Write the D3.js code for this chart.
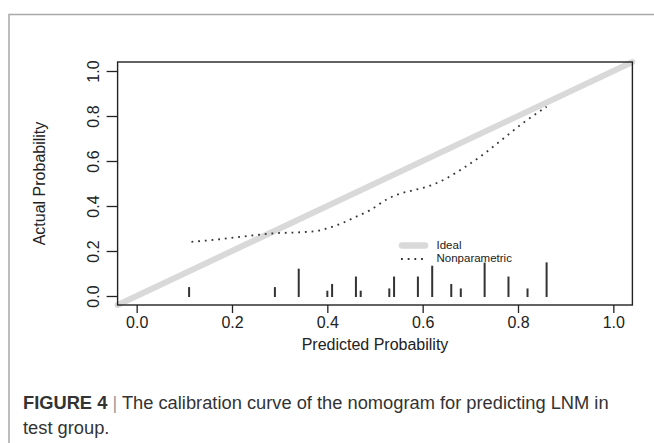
<!DOCTYPE html>
<html>
<head>
<meta charset="utf-8">
<script src="https://cdn.jsdelivr.net/npm/d3@7/dist/d3.min.js"></script>
<style>
  html, body { margin: 0; padding: 0; background: #fff; }
  svg { display: block; }
  text { font-family: "Liberation Sans", Arial, sans-serif; }
</style>
</head>
<body>
<svg id="chart" width="654" height="443"></svg>
<script>
// ---- data ----
const xTicks = [0, 0.2, 0.4, 0.6, 0.8, 1.0];
const yTicks = [0, 0.2, 0.4, 0.6, 0.8, 1.0];
const idealX = [-0.04, 1.04];
const idealY = [-0.04, 1.04];
const nonparX = [0.115, 0.16, 0.21, 0.25, 0.29, 0.34, 0.38, 0.40, 0.43, 0.46, 0.49, 0.525, 0.55, 0.58, 0.61, 0.65, 0.69, 0.73, 0.77, 0.81, 0.86];
const nonparY = [0.241, 0.249, 0.261, 0.271, 0.279, 0.283, 0.290, 0.301, 0.323, 0.352, 0.382, 0.430, 0.453, 0.470, 0.486, 0.523, 0.575, 0.634, 0.701, 0.768, 0.841];
const spikeX = [0.11, 0.29, 0.34, 0.40, 0.41, 0.46, 0.47, 0.53, 0.54, 0.59, 0.62, 0.66, 0.68, 0.73, 0.78, 0.82, 0.86];
const spikeH = [0.044, 0.044, 0.126, 0.028, 0.058, 0.091, 0.028, 0.038, 0.091, 0.091, 0.139, 0.058, 0.038, 0.153, 0.091, 0.038, 0.154];
const legendLabels = ["Ideal", "Nonparametric"];
const xTitle = "Predicted Probability";
const yTitle = "Actual Probability";

const svg = d3.select("#chart");

// figure frame (left + top rule)
svg.append("path")
  .attr("d", "M9,443 L9,14.5 L654,14.5")
  .attr("fill", "none").attr("stroke", "#a8a8a8").attr("stroke-width", 1.5);

const L = 117.6, R = 632.4, T = 62, B = 305;
const x = d3.scaleLinear().domain([-0.04, 1.04]).range([L, R]);
const y = d3.scaleLinear().domain([-0.04, 1.04]).range([B, T]);

// axes
const gx = svg.append("g").attr("transform", `translate(0,${B})`)
  .call(d3.axisBottom(x).tickValues(xTicks).tickSize(8).tickPadding(4).tickFormat(d3.format(".1f")));
gx.select(".domain").remove();
gx.selectAll("line").attr("stroke", "#222").attr("stroke-width", 1.3);
gx.selectAll("text").attr("font-size", 16).attr("fill", "#222")
  .attr("dy", null).attr("y", 22.7);

const gy = svg.append("g").attr("transform", `translate(${L},0)`)
  .call(d3.axisLeft(y).tickValues(yTicks).tickSize(11).tickFormat(d3.format(".1f")));
gy.select(".domain").remove();
gy.selectAll("line").attr("stroke", "#222").attr("stroke-width", 1.3);
gy.selectAll("text").attr("font-size", 16).attr("fill", "#222")
  .attr("x", null).attr("dy", null).attr("text-anchor", "middle")
  .attr("transform", "translate(-18.6,0) rotate(-90)");

// spikes
svg.append("g").selectAll("line").data(spikeX).join("line")
  .attr("x1", d => x(d)).attr("x2", d => x(d))
  .attr("y1", y(0) + 1).attr("y2", (d, i) => y(spikeH[i]) + 1)
  .attr("stroke", "#333").attr("stroke-width", 2);

// ideal line
svg.append("line")
  .attr("x1", x(idealX[0])).attr("y1", y(idealY[0]))
  .attr("x2", x(idealX[1])).attr("y2", y(idealY[1]))
  .attr("stroke", "#d9d9d9").attr("stroke-width", 6).attr("stroke-linecap", "round");

// nonparametric
const line = d3.line().x(d => x(d[0])).y(d => y(d[1])).curve(d3.curveMonotoneX);
svg.append("path")
  .datum(nonparX.map((v, i) => [v, nonparY[i]]))
  .attr("d", line)
  .attr("fill", "none").attr("stroke", "#333").attr("stroke-width", 1.8)
  .attr("stroke-dasharray", "1.8,4.9");

// plot box
svg.append("rect").attr("x", L).attr("y", T).attr("width", R - L).attr("height", B - T)
  .attr("fill", "none").attr("stroke", "#222").attr("stroke-width", 1.4);

// legend
const lg = svg.append("g");
lg.append("line").attr("x1", 402).attr("x2", 425).attr("y1", 245.5).attr("y2", 245.5)
  .attr("stroke", "#d9d9d9").attr("stroke-width", 6.5).attr("stroke-linecap", "round");
lg.append("line").attr("x1", 401).attr("x2", 424).attr("y1", 259).attr("y2", 259)
  .attr("stroke", "#333").attr("stroke-width", 1.8).attr("stroke-dasharray", "1.8,4.9");
lg.append("text").attr("x", 436.5).attr("y", 249).attr("font-size", 11.5).attr("fill", "#222").text(legendLabels[0]);
lg.append("text").attr("x", 436.5).attr("y", 262.2).attr("font-size", 11.5).attr("fill", "#222").text(legendLabels[1]);

// axis titles
svg.append("text").attr("x", (L + R) / 2).attr("y", 349.5).attr("text-anchor", "middle")
  .attr("font-size", 16).attr("fill", "#222").text(xTitle);
svg.append("text").attr("transform", "translate(45,183.5) rotate(-90)").attr("text-anchor", "middle")
  .attr("font-size", 16).attr("fill", "#222").text(yTitle);

// caption
const cap = svg.append("text").attr("x", 23).attr("y", 408.5).attr("font-size", 18.3).attr("fill", "#333");
cap.append("tspan").attr("font-weight", "bold").text("FIGURE 4");
cap.append("tspan").attr("fill", "#999").text(" | ");
cap.append("tspan").text("The calibration curve of the nomogram for predicting LNM in");
svg.append("text").attr("x", 23).attr("y", 434).attr("font-size", 18.3).attr("fill", "#333").text("test group.");
</script>
</body>
</html>
